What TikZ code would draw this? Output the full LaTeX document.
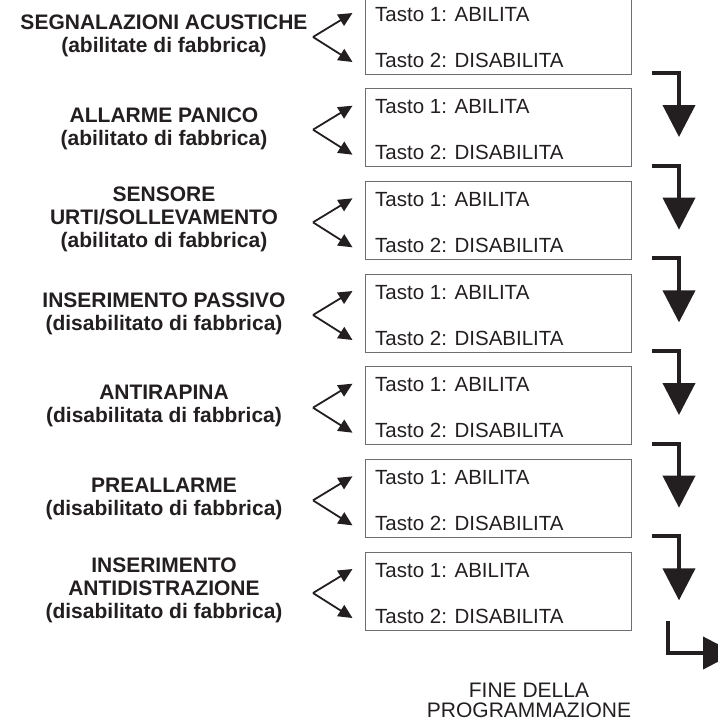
\documentclass[tikz,border=0pt]{standalone}
\usepackage{fontspec}
\setmainfont{Liberation Sans}
\usetikzlibrary{arrows.meta}
\definecolor{ink}{HTML}{231F20}
\definecolor{frame}{HTML}{6D6E71}

\begin{document}
\begin{tikzpicture}[x=1pt,y=-1pt,
    lab/.style={font=\bfseries\fontsize{21}{23}\selectfont,align=center,text=ink},
    tasto/.style={font=\fontsize{20.5}{24}\selectfont,text=ink,anchor=base west,inner sep=0pt},
    fork/.style={draw=ink,line width=1.8pt,-{Triangle[length=14pt,width=13pt]}},
    goon/.style={draw=ink,line width=4pt,line join=miter,-{Triangle[length=32pt,width=32pt]}}]
        \useasboundingbox (0,0) rectangle (718,721);
        \clip (0,0) rectangle (718,721);

        % opzioni
        \node[lab] (seg) at (164,36) {SEGNALAZIONI ACUSTICHE\\(abilitate di fabbrica)};
        \node[lab] (pan) at (164,129) {ALLARME PANICO\\(abilitato di fabbrica)};
        \node[lab] (urti) at (164,219) {SENSORE\\URTI/SOLLEVAMENTO\\(abilitato di fabbrica)};
        \node[lab] (pass) at (164,314) {INSERIMENTO PASSIVO\\(disabilitato di fabbrica)};
        \node[lab] (rap) at (164,406) {ANTIRAPINA\\(disabilitata di fabbrica)};
        \node[lab] (pre) at (164,499) {PREALLARME\\(disabilitato di fabbrica)};
        \node[lab] (anti) at (164,590) {INSERIMENTO\\ANTIDISTRAZIONE\\(disabilitato di fabbrica)};

        \foreach[evaluate={\k*92.67+35} as \c] \k in {0,...,6} {
          \node[draw=frame,line width=0.9pt,minimum width=266pt,minimum height=78pt,
                inner sep=0pt,anchor=west] (box\k) at (365,\c) {};
          \node[tasto] (uno\k) at (375,\c-14) {Tasto 1: ABILITA};
          \node[tasto] (due\k) at (375,\c+32) {Tasto 2: DISABILITA};
          \coordinate (fk\k) at (313,\c+2);
          \coordinate (su\k) at (352.5,\c-22);
          \coordinate (giu\k) at (352.5,\c+27);
          \draw[fork] (fk\k) -- (su\k);
          \draw[fork] (fk\k) -- (giu\k);
        }

        % passo successivo
        \foreach[evaluate={\k*92.67+73} as \b] \k in {0,...,5} {
          \coordinate (pa\k) at (652,\b);
          \coordinate (pb\k) at (679,\b);
          \coordinate (pc\k) at (679,\b+64);
          \draw[goon] (pa\k) -- (pb\k) -- (pc\k);
        }

        \coordinate (fa) at (668,621);
        \coordinate (fb) at (668,653);
        \coordinate (fc) at (735,653);
        \draw[goon] (fa) -- (fb) -- (fc);

        \node[font=\fontsize{21}{20}\selectfont,align=center,text=ink,anchor=base] (fine) at (529,717)
          {FINE DELLA\\PROGRAMMAZIONE};
      \end{tikzpicture}
\end{document}
